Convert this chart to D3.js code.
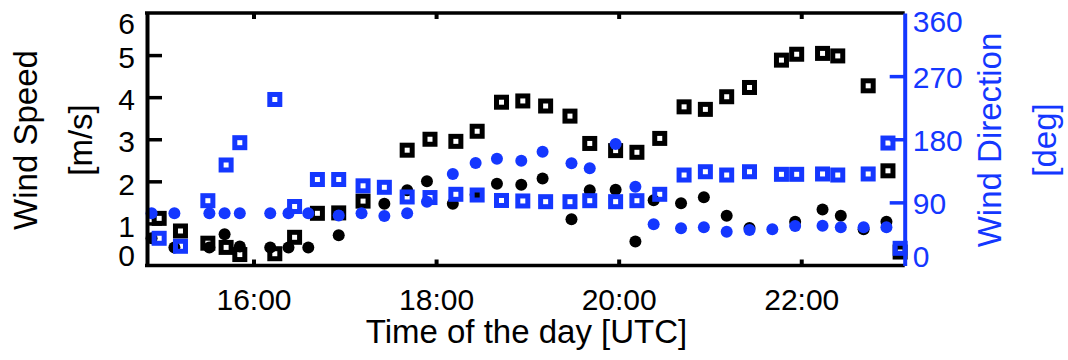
<!DOCTYPE html>
<html><head><meta charset="utf-8">
<script src="https://cdn.jsdelivr.net/npm/d3@7"></script>
<style>body{margin:0;background:#fff;} svg{display:block;} text{font-family:"Liberation Sans",Arial,Helvetica,sans-serif;}</style>
</head><body>
<svg id="chart" width="1068" height="360"></svg>
<script>
const timesSq = ["14:58","15:12","15:30","15:42","15:51","16:14","16:27","16:42","16:56","17:12","17:26","17:41","17:56","18:13","18:27","18:43","18:57","19:12","19:28","19:41","19:58","20:12","20:27","20:43","20:57","21:11","21:26","21:47","21:57","22:14","22:24","22:44","22:57","23:05"];
const speedSq = [1.12,0.82,0.53,0.43,0.26,0.28,0.67,1.24,1.25,1.53,null,2.74,3.00,2.95,3.19,3.88,3.91,3.79,3.55,2.90,2.73,2.69,3.02,3.77,3.71,4.01,4.23,4.88,5.02,5.04,4.98,4.27,2.25,0.32];
const dirSq = [38.8,27.4,92.4,143.3,175.1,236.7,84.1,122.6,122.6,113.6,111.5,97.7,96.9,101.5,100.5,92.7,92.0,91.0,91.0,92.4,91.0,92.4,101.5,129.0,133.7,129.0,133.7,130.0,130.0,130.5,129.0,130.5,174.6,24.5];
const timesDot = ["14:53","15:08","15:31","15:41","15:51","16:11","16:23","16:36","16:56","17:11","17:26","17:41","17:54","18:11","18:26","18:40","18:56","19:10","19:29","19:41","19:58","20:11","20:23","20:41","20:56","21:11","21:26","21:41","21:56","22:14","22:26","22:41","22:56"];
const speedDot = [0.65,0.43,0.43,0.74,0.45,0.43,0.43,0.43,0.72,null,1.47,1.79,2.00,1.47,1.68,1.94,1.92,2.07,1.10,1.79,1.80,0.57,1.55,1.48,1.62,1.18,0.89,null,1.04,1.33,1.18,0.86,1.04];
const dirDot = [74.4,74.4,74.4,74.4,74.4,74.4,74.4,74.4,71.3,74.4,70.6,74.4,91.0,130.5,146.1,152.3,149.4,162.2,145.7,138.6,173.2,112.3,58.7,53.0,54.5,48.2,50.6,51.6,56.3,56.7,54.5,54.5,54.5];
const timeTicks = ["16:00","18:00","20:00","22:00"];
const timeDomain = ["14:50","23:08"];
const speedTicks = [0,1,2,3,4,5,6];
const dirTicks = [0,90,180,270,360];

const BLUE = "#1437ff";
const toMin = s => { const [h,m] = s.split(":").map(Number); return h*60+m; };

const L = 147, R = 904.7, T = 13, B = 265.5;
const svg = d3.select("#chart");
const x = d3.scaleLinear().domain(timeDomain.map(toMin)).range([L, R]);
const yL = d3.scaleLinear().domain([0,6]).range([B, T]);
const yR = d3.scaleLinear().domain([0,360]).range([B, T]);

// markers: black squares, black dots, blue squares, blue dots
const sq = (times, vals, scale, color) => {
  const d = times.map((t,i)=>({t:toMin(t), v:vals[i]})).filter(o=>o.v!=null);
  svg.append("g").selectAll("rect").data(d).join("rect")
    .attr("x", o=>x(o.t)-5).attr("y", o=>scale(o.v)-5)
    .attr("width",10).attr("height",10)
    .attr("fill","none").attr("stroke",color).attr("stroke-width",5);
};
const dot = (times, vals, scale, color) => {
  const d = times.map((t,i)=>({t:toMin(t), v:vals[i]})).filter(o=>o.v!=null);
  svg.append("g").selectAll("circle").data(d).join("circle")
    .attr("cx", o=>x(o.t)).attr("cy", o=>scale(o.v)).attr("r",6).attr("fill",color);
};
sq(timesSq, speedSq, yL, "#000");
dot(timesDot, speedDot, yL, "#000");
sq(timesSq, dirSq, yR, BLUE);
dot(timesDot, dirDot, yR, BLUE);

// frame
const frame = svg.append("g");
frame.append("line").attr("x1",L-2).attr("x2",R).attr("y1",T).attr("y2",T).attr("stroke","#000").attr("stroke-width",3.5);
frame.append("line").attr("x1",L-2).attr("x2",R).attr("y1",B).attr("y2",B).attr("stroke","#000").attr("stroke-width",3.5);

// x axes (ticks inward)
const xt = timeTicks.map(toMin);
const xb = svg.append("g").attr("transform",`translate(0,${B})`)
  .call(d3.axisBottom(x).tickValues(xt).tickSizeInner(-6).tickSizeOuter(0).tickPadding(0).tickFormat((d,i)=>timeTicks[i]));
xb.select(".domain").remove();
xb.selectAll(".tick line").attr("stroke","#000").attr("stroke-width",4);
xb.selectAll(".tick text").attr("y",44).attr("dy",null).attr("font-size",30).attr("fill","#000");
const xtop = svg.append("g").attr("transform",`translate(0,${T})`)
  .call(d3.axisTop(x).tickValues(xt).tickSizeInner(-6).tickSizeOuter(0).tickFormat(""));
xtop.select(".domain").remove();
xtop.selectAll(".tick line").attr("stroke","#000").attr("stroke-width",4);

// left axis
const ladj = {6:10, 0:-10.5};
const la = svg.append("g").attr("transform",`translate(${L},0)`)
  .call(d3.axisLeft(yL).tickValues(speedTicks).tickSizeInner(-15).tickSizeOuter(0).tickPadding(12).tickFormat(d3.format("d")));
la.select(".domain").attr("stroke","#000").attr("stroke-width",4);
la.selectAll(".tick line").attr("stroke","#000").attr("stroke-width",3.5);
la.selectAll(".tick text").attr("font-size",30).attr("fill","#000").attr("dy",null)
  .attr("y", d => (ladj[d]!==undefined?ladj[d]:2.2) + 10.5);

// right axis
const radj = {360:8, 0:-9.5};
const ra = svg.append("g").attr("transform",`translate(${R},0)`)
  .call(d3.axisRight(yR).tickValues(dirTicks).tickSizeInner(-15).tickSizeOuter(0).tickPadding(8).tickFormat(d3.format("d")));
ra.select(".domain").attr("stroke",BLUE).attr("stroke-width",4);
ra.selectAll(".tick line").attr("stroke",BLUE).attr("stroke-width",3.5);
ra.selectAll(".tick text").attr("font-size",30).attr("fill",BLUE).attr("dy",null)
  .attr("y", d => (radj[d]!==undefined?radj[d]:1) + 10.5);
// hide tick lines coinciding with frame edges
la.selectAll(".tick line").filter(d=>d===0||d===6).remove();
ra.selectAll(".tick line").filter(d=>d===0||d===360).remove();

// titles
const midY = 140;
svg.append("text").attr("transform",`translate(36.6,${midY}) rotate(-90)`).attr("text-anchor","middle").attr("font-size",33).text("Wind Speed");
svg.append("text").attr("transform",`translate(92,${midY}) rotate(-90)`).attr("text-anchor","middle").attr("font-size",33).text("[m/s]");
svg.append("text").attr("transform",`translate(1000.5,${midY}) rotate(-90)`).attr("text-anchor","middle").attr("font-size",33).attr("fill",BLUE).text("Wind Direction");
svg.append("text").attr("transform",`translate(1055.8,${midY}) rotate(-90)`).attr("text-anchor","middle").attr("font-size",33).attr("fill",BLUE).text("[deg]");
svg.append("text").attr("x",526.5).attr("y",343).attr("text-anchor","middle").attr("font-size",33).text("Time of the day [UTC]");
</script>
</body></html>
